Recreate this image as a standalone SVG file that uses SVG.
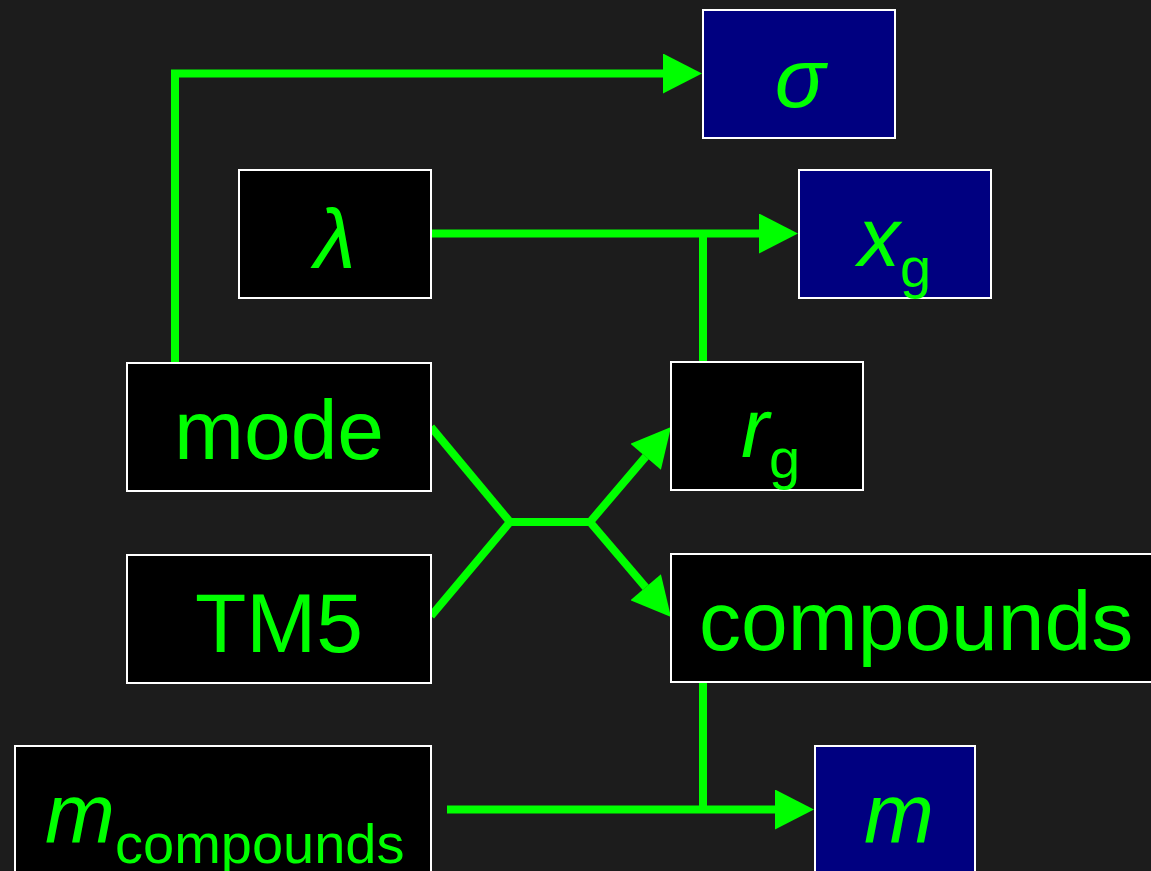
<svg xmlns="http://www.w3.org/2000/svg" width="1151" height="871" viewBox="0 0 1151 871">
<style>
.box{stroke:#ffffff;stroke-width:2}
.blk{fill:#000000}
.nav{fill:#000080}
.t{fill:#00ff00;font-family:"Liberation Sans",Arial,sans-serif;font-size:84px}
.i{font-style:italic}
.sub{font-size:56px;font-style:normal}
.c{fill:none;stroke:#00ff00;stroke-width:8;stroke-linejoin:miter}
</style>
<defs>
<marker id="ah" markerUnits="userSpaceOnUse" markerWidth="40" markerHeight="40" viewBox="0 0 39 40" refX="0" refY="20" orient="auto">
<path d="M0,0 L39,20 L0,40 z" fill="#00ff00"/>
</marker>
</defs>
<rect width="1151" height="871" fill="#1c1c1c"/>
<g id="connectors">
<path class="c" d="M175,362 V73.5 H663" marker-end="url(#ah)"/>
<path class="c" d="M432,233.5 H759" marker-end="url(#ah)"/>
<path class="c" d="M703,362 V233.5"/>
<path class="c" d="M431,427 L510,522"/>
<path class="c" d="M431,616 L510,522 H590 L645.7,456.7" marker-end="url(#ah)"/>
<path class="c" d="M590,522 L645.7,587.3" marker-end="url(#ah)"/>
<path class="c" d="M703,683 V809.5"/>
<path class="c" d="M447,809.5 H775" marker-end="url(#ah)"/>
</g>
<g id="sigma">
<rect class="box nav" x="703" y="10" width="192" height="128"/>
<text class="t i" x="800" y="107" text-anchor="middle">σ</text>
</g>
<g id="lambda">
<rect class="box blk" x="239" y="170" width="192" height="128"/>
<text class="t i" x="335" y="268" text-anchor="middle">λ</text>
</g>
<g id="xg">
<rect class="box nav" x="799" y="170" width="192" height="128"/>
<text class="t" x="858" y="266"><tspan class="i">x</tspan><tspan class="sub" dy="21">g</tspan></text>
</g>
<g id="mode">
<rect class="box blk" x="127" y="363" width="304" height="128"/>
<text class="t" x="279" y="459" text-anchor="middle">mode</text>
</g>
<g id="rg">
<rect class="box blk" x="671" y="362" width="192" height="128"/>
<text class="t" x="741" y="457"><tspan class="i">r</tspan><tspan class="sub" dy="21">g</tspan></text>
</g>
<g id="tm5">
<rect class="box blk" x="127" y="555" width="304" height="128"/>
<text class="t" x="279" y="652" text-anchor="middle">TM5</text>
</g>
<g id="compounds">
<rect class="box blk" x="671" y="554" width="500" height="128"/>
<text class="t" x="699" y="650">compounds</text>
</g>
<g id="mcompounds">
<rect class="box blk" x="15" y="746" width="416" height="140"/>
<text class="t" x="45" y="842"><tspan class="i">m</tspan><tspan class="sub" dy="21">compounds</tspan></text>
</g>
<g id="m">
<rect class="box nav" x="815" y="746" width="160" height="140"/>
<text class="t i" x="899" y="842" text-anchor="middle">m</text>
</g>
</svg>
